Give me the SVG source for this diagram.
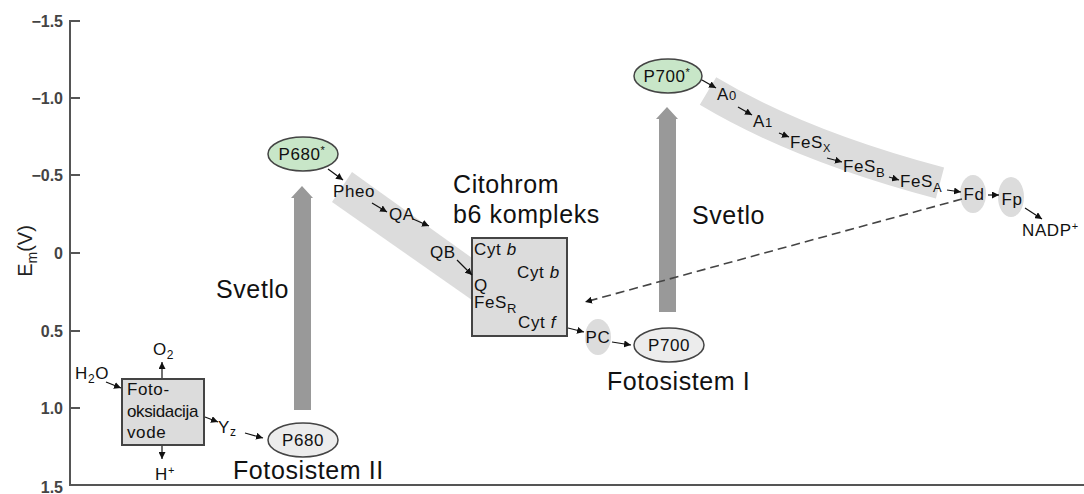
<svg xmlns="http://www.w3.org/2000/svg" width="1084" height="494" viewBox="0 0 1084 494">
<style>
.ax{stroke:#555;stroke-width:2;fill:none}
.tl{font-family:"Liberation Sans",Arial,sans-serif;font-size:16px;font-weight:bold;fill:#444;text-anchor:end}
.sm{font-family:"Liberation Sans",Arial,sans-serif;font-size:17px;fill:#111;letter-spacing:0.6px}
.big{font-family:"Liberation Sans",Arial,sans-serif;font-size:25px;fill:#111;letter-spacing:0.6px}
.box{fill:#dcdcdc;stroke:#444;stroke-width:2}
.green{fill:#c8e6c8;stroke:#444;stroke-width:1.5}
.grey{fill:#ececec;stroke:#444;stroke-width:1.5}
.blob{fill:#dcdcdc}
.band{fill:#dcdcdc}
.lt{fill:#999}
.con{stroke:#111;stroke-width:1.2;fill:none;marker-end:url(#ah)}
.dash{stroke:#444;stroke-width:1.6;fill:none;stroke-dasharray:9 5;marker-end:url(#ah)}
.ctr{text-anchor:middle}
</style>
<defs>
<marker id="ah" markerUnits="userSpaceOnUse" markerWidth="7" markerHeight="7" refX="7" refY="3.5" orient="auto">
<path d="M0,0 L7,3.5 L0,7 z" fill="#111"/>
</marker>
</defs>
<rect width="1084" height="494" fill="#fff"/>

<g id="axis">
<line class="ax" x1="70" y1="20" x2="70" y2="485"/>
<line class="ax" x1="69" y1="485" x2="1084" y2="485"/>
<g class="ax">
<line x1="70" y1="21" x2="80" y2="21"/>
<line x1="70" y1="98" x2="80" y2="98"/>
<line x1="70" y1="175" x2="80" y2="175"/>
<line x1="70" y1="253" x2="80" y2="253"/>
<line x1="70" y1="331" x2="80" y2="331"/>
<line x1="70" y1="408" x2="80" y2="408"/>
</g>
<text class="tl" x="63" y="27">−1.5</text>
<text class="tl" x="63" y="104">−1.0</text>
<text class="tl" x="63" y="181">−0.5</text>
<text class="tl" x="63" y="259">0</text>
<text class="tl" x="63" y="337">0.5</text>
<text class="tl" x="63" y="414">1.0</text>
<text class="tl" x="63" y="493">1.5</text>
<text transform="translate(32,251) rotate(-90)" font-family="Liberation Sans,Arial,sans-serif" font-size="20" fill="#222" text-anchor="middle">E<tspan font-size="14" dy="5">m</tspan><tspan dy="-5">(V)</tspan></text>
</g>

<g id="bands">
<polygon class="band" points="352,172 472,258 472,300 332,202"/>
<path d="M708,91 Q800,146 940,183" stroke="#dcdcdc" stroke-width="32" fill="none"/>
</g>

<g id="light1">
<polygon class="lt" points="294,410 294,198 291,198 302,186 313,198 311,198 311,410"/>
<text class="big" x="216" y="298">Svetlo</text>
</g>
<g id="light2">
<polygon class="lt" points="659,312 659,119 656,119 667,107 678,119 676,119 676,312"/>
<text class="big" x="692" y="224">Svetlo</text>
</g>

<g id="photooxidation">
<rect class="box" x="122" y="379" width="82" height="66"/>
<text class="sm" x="127" y="395" font-size="14" letter-spacing="0">Foto-</text>
<text class="sm" x="127" y="417" font-size="14" letter-spacing="0" textLength="72">oksidacija</text>
<text class="sm" x="127" y="438" font-size="14" letter-spacing="0">vode</text>
</g>
<g id="h2o"><text class="sm" x="75" y="379">H<tspan font-size="12" dy="4">2</tspan><tspan dy="-4">O</tspan></text></g>
<g id="o2"><text class="sm" x="153" y="355">O<tspan font-size="12" dy="4">2</tspan></text></g>
<g id="hplus"><text class="sm" x="155" y="480">H<tspan font-size="11" dy="-6">+</tspan></text></g>
<g id="yz"><text class="sm" x="218" y="433">Y<tspan font-size="12" dy="3">z</tspan></text></g>

<g id="p680">
<ellipse class="grey" cx="303" cy="440" rx="35" ry="17"/>
<text class="sm ctr" x="303" y="446">P680</text>
<text class="big" x="233" y="479">Fotosistem II</text>
</g>
<g id="p680star">
<ellipse class="green" cx="303" cy="154" rx="35" ry="17"/>
<text class="sm ctr" x="302" y="160">P680<tspan font-size="11" dy="-6">*</tspan></text>
</g>
<g id="pheo"><text class="sm" x="333" y="197">Pheo</text></g>
<g id="qa"><text class="sm" x="389" y="220">QA</text></g>
<g id="qb"><text class="sm" x="430" y="258">QB</text></g>

<g id="cytb6">
<text class="big" x="453" y="193">Citohrom</text>
<text class="big" x="453" y="223">b6 kompleks</text>
<rect class="box" x="472" y="238" width="95" height="98"/>
<text class="sm" x="474" y="255">Cyt <tspan font-style="italic">b</tspan></text>
<text class="sm" x="517" y="278">Cyt <tspan font-style="italic">b</tspan></text>
<text class="sm" x="474" y="291">Q</text>
<text class="sm" x="474" y="308">FeS<tspan font-size="13" dy="5">R</tspan></text>
<text class="sm" x="518" y="328">Cyt <tspan font-style="italic">f</tspan></text>
</g>

<g id="pc">
<ellipse class="blob" cx="598" cy="337" rx="13" ry="18"/>
<text class="sm ctr" x="598" y="343">PC</text>
</g>
<g id="p700">
<ellipse class="grey" cx="669" cy="345" rx="35" ry="17"/>
<text class="sm ctr" x="669" y="351">P700</text>
<text class="big" x="607" y="390">Fotosistem I</text>
</g>
<g id="p700star">
<ellipse class="green" cx="668" cy="76" rx="34" ry="17"/>
<text class="sm ctr" x="667" y="82">P700<tspan font-size="11" dy="-6">*</tspan></text>
</g>
<g id="a0"><text class="sm" x="717" y="100">A<tspan font-size="13">0</tspan></text></g>
<g id="a1"><text class="sm" x="753" y="127">A<tspan font-size="13">1</tspan></text></g>
<g id="fesx"><text class="sm" x="790" y="148">FeS<tspan font-size="11" dy="4">X</tspan></text></g>
<g id="fesb"><text class="sm" x="843" y="172">FeS<tspan font-size="13" dy="5">B</tspan></text></g>
<g id="fesa"><text class="sm" x="900" y="187">FeS<tspan font-size="13" dy="5">A</tspan></text></g>
<g id="fd">
<ellipse class="blob" cx="973" cy="194" rx="13" ry="19"/>
<text class="sm ctr" x="974" y="200">Fd</text>
</g>
<g id="fp">
<ellipse class="blob" cx="1011" cy="197" rx="13" ry="20"/>
<text class="sm ctr" x="1012" y="205">Fp</text>
</g>
<g id="nadp"><text class="sm" x="1022" y="236">NADP<tspan font-size="11" dy="-6">+</tspan></text></g>

<g id="connectors">
<line class="con" x1="106" y1="382" x2="121" y2="388"/>
<line class="con" x1="162" y1="378" x2="162" y2="362"/>
<line class="con" x1="162" y1="446" x2="162" y2="459"/>
<line class="con" x1="205" y1="417" x2="218" y2="422"/>
<line class="con" x1="245" y1="433" x2="263" y2="438"/>
<line class="con" x1="328" y1="169" x2="343" y2="180"/>
<line class="con" x1="372" y1="203" x2="387" y2="212"/>
<line class="con" x1="413" y1="219" x2="429" y2="226"/>
<line class="con" x1="457" y1="260" x2="472" y2="275"/>
<line class="con" x1="568" y1="328" x2="584" y2="332"/>
<line class="con" x1="612" y1="342" x2="631" y2="345"/>
<line class="con" x1="702" y1="80" x2="716" y2="88"/>
<line class="con" x1="738" y1="107" x2="752" y2="115"/>
<line class="con" x1="779" y1="133" x2="789" y2="137"/>
<line class="con" x1="827" y1="158" x2="842" y2="162"/>
<line class="con" x1="889" y1="177" x2="899" y2="180"/>
<line class="con" x1="947" y1="190" x2="961" y2="192"/>
<line class="con" x1="988" y1="195" x2="999" y2="195"/>
<line class="con" x1="1025" y1="208" x2="1042" y2="219"/>
<line class="dash" x1="962" y1="199" x2="585" y2="302"/>
</g>
</svg>
